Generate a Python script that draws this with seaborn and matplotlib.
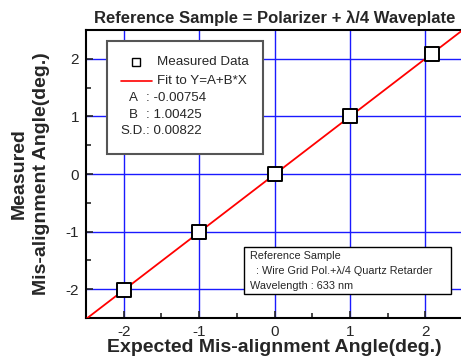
import numpy as np
import pandas as pd
import matplotlib
matplotlib.use("Agg")
import matplotlib.pyplot as plt
from matplotlib.patches import Rectangle
from matplotlib.lines import Line2D
from matplotlib.ticker import MultipleLocator
import seaborn as sns

# measured points
expected = [-2.0, -1.0, 0.0, 1.0, 2.09]
measured = [-2.02, -1.01, 0.0, 1.0, 2.09]

# linear fit Y = A + B*X
fit_A = -0.00754
fit_B = 1.00425
fit_SD = 0.00822
fit_x = [-2.5, 2.5]

ticks = [-2, -1, 0, 1, 2]

sns.set_style("ticks")
plt.rcParams["font.family"] = ["Liberation Sans", "DejaVu Sans"]
plt.rcParams["axes.unicode_minus"] = False

W, H = 461, 363
fig = plt.figure(figsize=(W / 100, H / 100), dpi=100)

def fx(px):
    return px / W

def fy(py):
    return 1 - py / H

ax = fig.add_axes([fx(86), fy(318), (463 - 86) / W, (318 - 30) / H])

df = pd.DataFrame({"x": expected, "y": measured})
fit_df = pd.DataFrame({"x": fit_x, "y": [fit_A + fit_B * v for v in fit_x]})

sns.lineplot(data=fit_df, x="x", y="y", ax=ax, color="red", lw=1.3, zorder=3)
sns.scatterplot(data=df, x="x", y="y", ax=ax, marker="s", s=115,
                facecolor="white", edgecolor="black", linewidth=1.4, zorder=4)

ax.set_xlim(-2.5, 2.5)
ax.set_ylim(-2.5, 2.5)
ax.set_xticks(ticks)
ax.set_yticks(ticks)
ax.xaxis.set_minor_locator(MultipleLocator(0.5))
ax.yaxis.set_minor_locator(MultipleLocator(0.5))
ax.tick_params(which="both", direction="in", labelsize=11, width=1.2, pad=5)
ax.tick_params(which="major", length=5)
ax.tick_params(which="minor", length=3.5)
ax.grid(True, which="major", color="#1a1aff", lw=1.0)
ax.set_axisbelow(True)
for s in ax.spines.values():
    s.set_linewidth(1.5)
    s.set_color("black")

ax.set_title("Reference Sample = Polarizer + λ/4 Waveplate",
             fontsize=12, fontweight="bold", pad=5)
ax.set_xlabel("Expected Mis-alignment Angle(deg.)", fontsize=14,
              fontweight="bold", labelpad=0)
ax.set_ylabel("Measured\nMis-alignment Angle(deg.)", fontsize=14,
              fontweight="bold", labelpad=11, linespacing=1.45)

# fit summary box
fig.patches.append(Rectangle((fx(107), fy(154)), (263 - 107) / W, (154 - 41) / H,
                             transform=fig.transFigure, facecolor="white",
                             edgecolor="#555555", lw=1.5, zorder=5))
fig.lines.append(Line2D([fx(136)], [fy(62)], marker="s", ms=6, mfc="white",
                        mec="black", mew=1.0, transform=fig.transFigure, zorder=6))
fig.lines.append(Line2D([fx(121), fx(152)], [fy(81), fy(81)], color="red", lw=1.2,
                        transform=fig.transFigure, zorder=6))
fig.text(fx(157), fy(62), "Measured Data", fontsize=9.6, va="center", zorder=6)
fig.text(fx(157), fy(81), "Fit to Y=A+B*X", fontsize=9.6, va="center", zorder=6)
rows = [("A", f"{fit_A:.5f}", 98), ("B", f"{fit_B:.5f}", 115), ("S.D.", f"{fit_SD:.5f}", 131)]
for lab, val, yy in rows:
    fig.text(fx(133), fy(yy), lab, fontsize=9.6, ha="center", va="center", zorder=6)
    fig.text(fx(146), fy(yy), ": " + val, fontsize=9.6, ha="left", va="center", zorder=6)

# sample info box
fig.patches.append(Rectangle((fx(244), fy(294)), (451 - 244) / W, (294 - 247) / H,
                             transform=fig.transFigure, facecolor="white",
                             edgecolor="black", lw=1.0, zorder=5))
info = ["Reference Sample", "  : Wire Grid Pol.+λ/4 Quartz Retarder", "Wavelength : 633 nm"]
for line, yy in zip(info, [256, 271.5, 286]):
    fig.text(fx(250), fy(yy), line, fontsize=7.8, ha="left", va="center", zorder=6)

fig.savefig("out.png", dpi=100)
